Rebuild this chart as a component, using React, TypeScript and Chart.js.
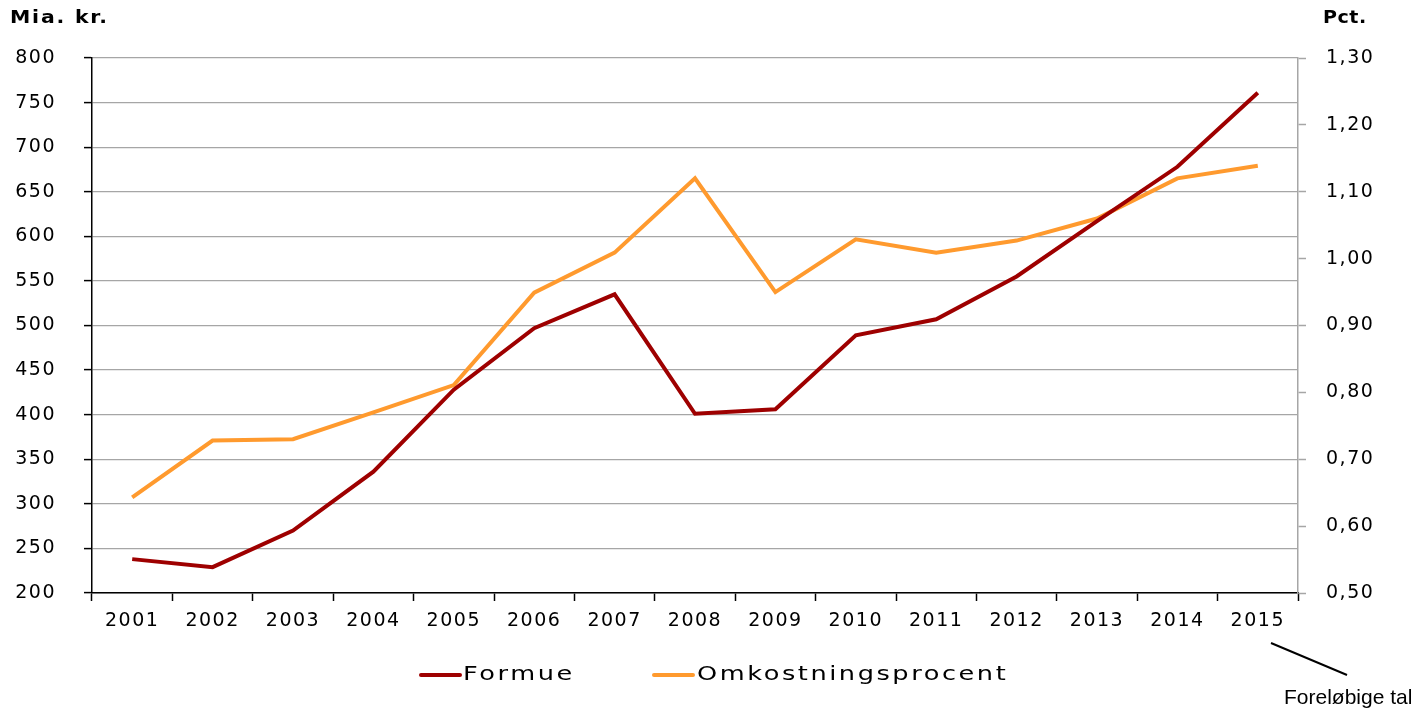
import React, { useEffect, useRef } from "react";
import { Chart, registerables } from "chart.js";

Chart.register(...registerables);

const years = ["2001", "2002", "2003", "2004", "2005", "2006", "2007", "2008", "2009", "2010", "2011", "2012", "2013", "2014", "2015"];
const formue = [238, 229, 270, 336, 428, 497, 535, 401, 406, 489, 507, 555, 617, 678, 761];
const omkostningsprocent = [0.643, 0.728, 0.73, 0.77, 0.811, 0.949, 1.009, 1.12, 0.95, 1.029, 1.009, 1.027, 1.06, 1.12, 1.139];
const seriesNames = ["Formue", "Omkostningsprocent"];
const leftTitle = "Mia. kr.";
const rightTitle = "Pct.";
const footnote = "Foreløbige tal";

const RED = "#9e0000";
const ORANGE = "#ff9a2e";
const GRID = "#a6a6a6";
const FONT = "'DejaVu Sans', Verdana, sans-serif";

function stretchedText(ctx: CanvasRenderingContext2D, text: string, x: number, y: number, sx: number, spacing: number) {
  ctx.save();
  (ctx as any).letterSpacing = spacing + "px";
  ctx.translate(x, y);
  ctx.scale(sx, 1);
  ctx.fillText(text, 0, 0);
  ctx.restore();
}

const spacingPlugin = {
  id: "spacing",
  beforeUpdate(chart: any) {
    (chart.ctx as any).letterSpacing = "1.5px";
  },
  beforeDraw(chart: any) {
    (chart.ctx as any).letterSpacing = "1.5px";
  },
};

const decorPlugin = {
  id: "decor",
  afterDraw(chart: any) {
    const ctx: CanvasRenderingContext2D = chart.ctx;
    ctx.save();
    ctx.fillStyle = "#000";
    ctx.textBaseline = "middle";
    ctx.textAlign = "left";
    // axis titles
    ctx.font = "bold 17px " + FONT;
    stretchedText(ctx, leftTitle, 10, 19, 1.2, 1.5);
    stretchedText(ctx, rightTitle, 1323, 19, 1.12, 0.5);
    // legend
    const ds = chart.data.datasets;
    const items = [
      { x: 421, tx: 463 },
      { x: 654, tx: 697 },
    ];
    ctx.font = "20px " + FONT;
    items.forEach((it, i) => {
      ctx.strokeStyle = ds[i].borderColor;
      ctx.lineWidth = 4;
      ctx.lineCap = "round";
      ctx.beginPath();
      ctx.moveTo(it.x, 675);
      ctx.lineTo(it.x + 39, 675);
      ctx.stroke();
      stretchedText(ctx, ds[i].label, it.tx, 675, 1.28, 2);
    });
    // footnote
    ctx.strokeStyle = "#000";
    ctx.lineWidth = 2;
    ctx.lineCap = "butt";
    ctx.beginPath();
    ctx.moveTo(1271, 643);
    ctx.lineTo(1347, 675);
    ctx.stroke();
    ctx.font = "21px 'Liberation Sans', Arial, sans-serif";
    stretchedText(ctx, footnote, 1284, 698, 1.0, 0);
    ctx.restore();
  },
};

export default function App() {
  const ref = useRef<HTMLCanvasElement>(null);
  useEffect(() => {
    if (!ref.current) return;
    const chart = new Chart(ref.current, {
      type: "line",
      data: {
        labels: years,
        datasets: [
          {
            label: seriesNames[0],
            data: formue,
            borderColor: RED,
            backgroundColor: RED,
            borderWidth: 4,
            pointRadius: 0,
            tension: 0,
            yAxisID: "y",
          },
          {
            label: seriesNames[1],
            data: omkostningsprocent,
            borderColor: ORANGE,
            backgroundColor: ORANGE,
            borderWidth: 4,
            pointRadius: 0,
            tension: 0,
            yAxisID: "y1",
          },
        ],
      },
      options: {
        responsive: false,
        animation: false,
        layout: { padding: { top: 58, left: 0, right: 0, bottom: 0 } },
        plugins: {
          legend: { display: false },
          tooltip: { enabled: false },
        },
        scales: {
          x: {
            offset: true,
            grid: {
              offset: true,
              drawOnChartArea: false,
              drawTicks: true,
              tickLength: 8,
              tickColor: "#000",
              tickWidth: 1.5,
            },
            border: { color: "#000", width: 1.5 },
            ticks: {
              autoSkip: false,
              maxRotation: 0,
              minRotation: 0,
              padding: 9,
              color: "#000",
              font: { family: FONT, size: 19 },
            },
            afterFit(scale: any) {
              scale.height = 118;
            },
          },
          y: {
            position: "left",
            min: 200,
            max: 800,
            ticks: {
              stepSize: 50,
              padding: 28,
              color: "#000",
              font: { family: FONT, size: 19 },
            },
            grid: {
              color: GRID,
              lineWidth: 1.2,
              tickLength: 8,
              tickColor: "#000",
              tickWidth: 1.5,
            },
            border: { color: "#000", width: 1.5 },
            afterFit(scale: any) {
              scale.width = 92;
            },
          },
          y1: {
            position: "right",
            min: 0.5,
            max: 1.3,
            ticks: {
              stepSize: 0.1,
              padding: 20,
              color: "#000",
              font: { family: FONT, size: 19 },
              callback: (v: any) => Number(v).toFixed(2).replace(".", ","),
            },
            grid: {
              drawOnChartArea: false,
              tickLength: 8,
              tickColor: GRID,
              tickWidth: 1.5,
            },
            border: { color: GRID, width: 1.5 },
            afterFit(scale: any) {
              scale.width = 122;
            },
          },
        },
      },
      plugins: [spacingPlugin, decorPlugin],
    } as any);
    return () => chart.destroy();
  }, []);
  return (
    <div style={{ position: "fixed", left: 0, top: 0, width: 1420, height: 711, background: "#fff" }}>
      <canvas ref={ref} width={1420} height={711} style={{ display: "block" }} />
    </div>
  );
}
